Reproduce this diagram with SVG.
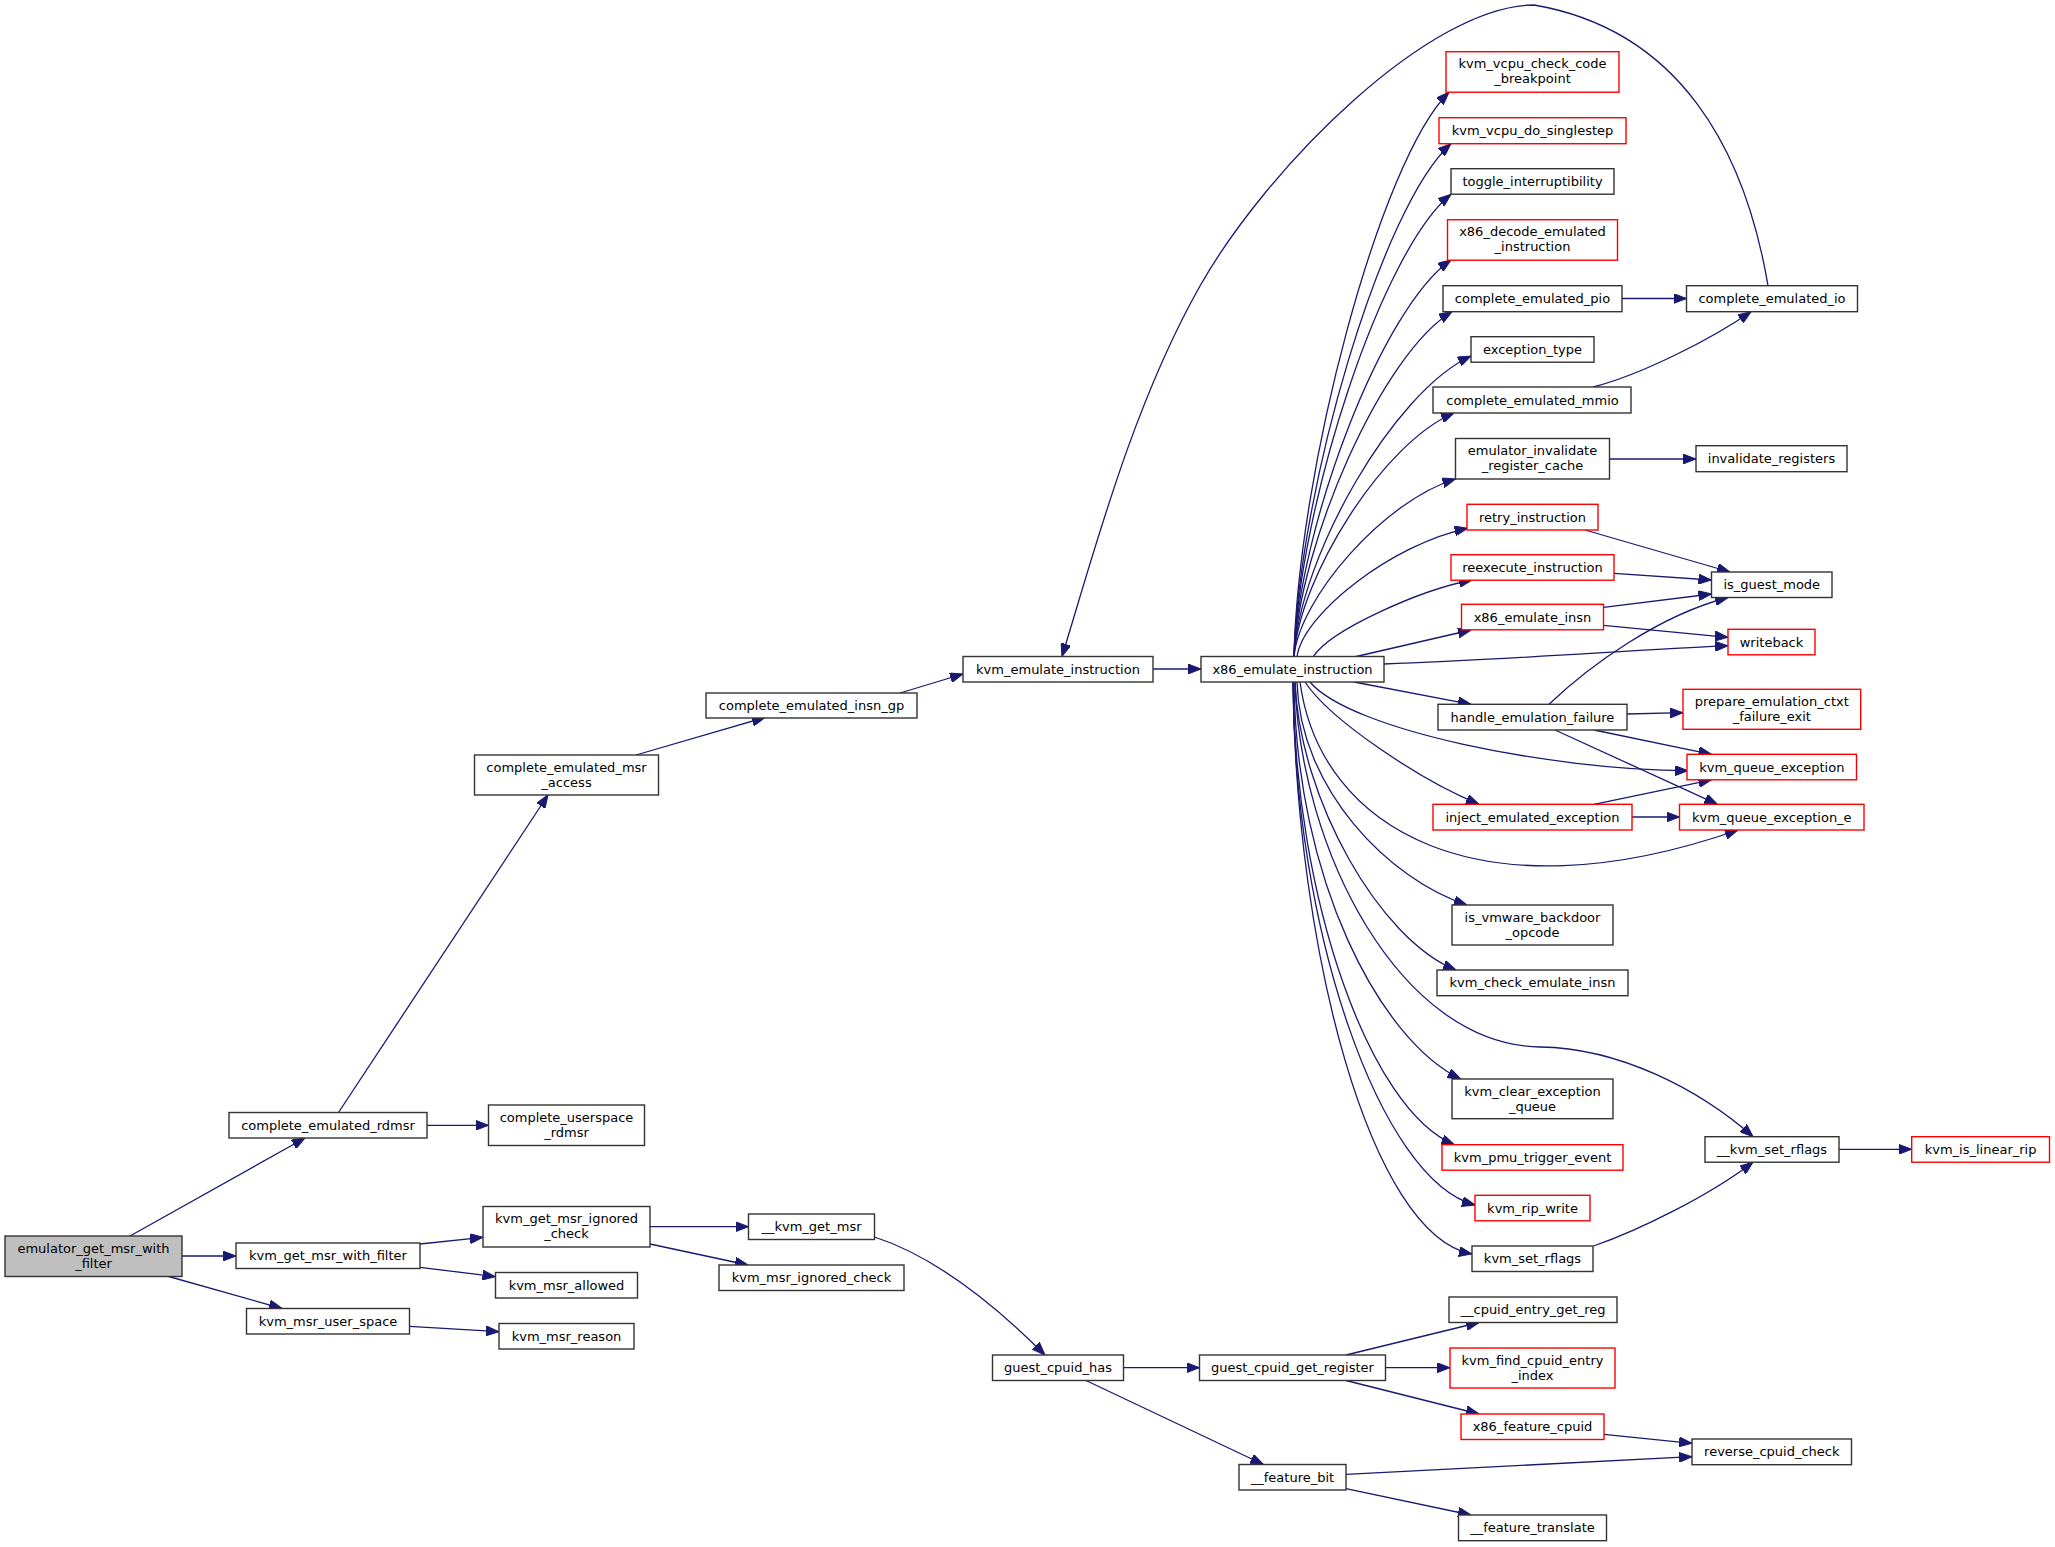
<svg xmlns="http://www.w3.org/2000/svg" width="2055" height="1547" viewBox="0 0 2055 1547">
<style>
.bg{fill:#ffffff}
.node rect{fill:#ffffff;stroke:#333333;stroke-width:1.4}
.node.red rect{stroke:#ff0000}
.node.root rect{fill:#bfbfbf}
.node text{font-family:"DejaVu Sans",sans-serif;font-size:13px;fill:#000000;text-anchor:middle}
.edges path{fill:none;stroke:#191970;stroke-width:1.3;marker-end:url(#arr)}
</style>
<defs>
<marker id="arr" markerUnits="userSpaceOnUse" viewBox="0 0 13 10" refX="13" refY="5" markerWidth="13" markerHeight="10" orient="auto">
<path d="M0,0 L13,5 L0,10 z" fill="#191970" stroke="#191970" stroke-width="1"/>
</marker>
</defs>
<rect class="bg" x="0" y="0" width="2055" height="1547"/>
<g id="edges" class="edges">
<path d="M130,1236 L305,1138"/>
<path d="M182,1256 L236,1256"/>
<path d="M167,1276 L282,1308.5"/>
<path d="M427,1125.3 L488.5,1125.3"/>
<path d="M338.5,1112.5 L548,795"/>
<path d="M636,755 L765,717.5"/>
<path d="M900,693 L963,674"/>
<path d="M1153,669 L1201,669"/>
<path d="M1768,285.7 C1745,150 1680,30 1534,5 C1430,5 1268,166 1200,286 C1132,406 1093,556 1062,656.5"/>
<path d="M1622,298.5 L1686.5,298.5"/>
<path d="M1593,387 C1640,375 1710,340 1751,311.7"/>
<path d="M1609.5,459 L1696,459"/>
<path d="M1585,530 L1730,572"/>
<path d="M1614,573.3 L1711.5,580"/>
<path d="M1603.5,607.3 L1711.5,594"/>
<path d="M1603.5,625.3 L1728,637.3"/>
<path d="M1384,664 C1500,660 1620,651 1728,645.7"/>
<path d="M1549,704.3 C1590,665 1660,615 1728,597.5"/>
<path d="M1627,714 L1683,712.7"/>
<path d="M1594,730 L1711.5,754.3"/>
<path d="M1555,730 L1717.5,804.3"/>
<path d="M1594,804.3 L1711.5,779.8"/>
<path d="M1632,817 L1679.5,817"/>
<path d="M1294,657 C1298,470 1380,160 1449,92.3"/>
<path d="M1294,657 C1299,487.6 1382,205.3 1451,143.7"/>
<path d="M1294,657 C1299,504.3 1382,249.8 1451,194.3"/>
<path d="M1294,657 C1299,526 1382,307.6 1451,260"/>
<path d="M1294,657 C1299,543 1382.5,353 1452,311.7"/>
<path d="M1294,657 C1299,557.7 1393,392 1471,356"/>
<path d="M1294,657 C1299,576.5 1383.6,442.3 1454,413"/>
<path d="M1294,657 C1299,598 1384.5,500.4 1455.5,479"/>
<path d="M1297,657 C1302,614.5 1392.6,543.7 1467.7,528.3"/>
<path d="M1313,657 C1330,630 1420,590 1472,580"/>
<path d="M1354,657 L1471,630"/>
<path d="M1354,682 L1471,704.3"/>
<path d="M1310,682 C1350,730 1550,770 1688,770.7"/>
<path d="M1305,682 C1330,720 1420,780 1479,804.3"/>
<path d="M1300,682 C1320,830 1480,920 1738,830"/>
<path d="M1297,682 C1300,790 1390,880 1467,905"/>
<path d="M1295,682 C1300,800 1380,940 1456,970"/>
<path d="M1295,682 C1300,850 1400,1045 1540,1047 C1620,1048 1700,1090 1753,1136.7"/>
<path d="M1294,682 C1296,880 1380,1040 1460.6,1079"/>
<path d="M1293,682 C1295,900 1370,1110 1454.3,1144.7"/>
<path d="M1293,682 C1294,930 1380,1180 1475,1205"/>
<path d="M1293,682 C1296,950 1370,1235 1472,1254"/>
<path d="M1593.5,1246 C1640,1230 1710,1195 1753,1162.2"/>
<path d="M1839,1149.3 L1911.7,1149.3"/>
<path d="M1346,1355 L1479,1322.5"/>
<path d="M1385.5,1367.7 L1450,1367.7"/>
<path d="M1346,1380.5 L1479,1414"/>
<path d="M1604,1434.3 L1692,1443.3"/>
<path d="M1346,1474.3 L1692,1456.7"/>
<path d="M1346,1488.7 L1471,1515"/>
<path d="M1123.5,1367.7 L1199.5,1367.7"/>
<path d="M1086,1380.5 L1263.4,1464.5"/>
<path d="M874.5,1237 C930,1255 990,1300 1045,1355"/>
<path d="M420,1244 L483,1237.3"/>
<path d="M420,1267.3 L495.5,1276.7"/>
<path d="M409.5,1326.3 L499,1331.7"/>
<path d="M650,1226.7 L748.5,1226.7"/>
<path d="M650,1244 L748,1265"/>
</g>
<g id="n_emulator_get_msr_with_filter" class="node root"><rect x="5" y="1236" width="177" height="40.5"/><text x="93.5" y="1252.6">emulator_get_msr_with</text><text x="93.5" y="1267.6">_filter</text></g>
<g id="n_complete_emulated_rdmsr" class="node"><rect x="229" y="1112.5" width="198" height="25.5"/><text x="328" y="1129.8">complete_emulated_rdmsr</text></g>
<g id="n_kvm_get_msr_with_filter" class="node"><rect x="236" y="1243" width="184" height="25.5"/><text x="328" y="1260.3">kvm_get_msr_with_filter</text></g>
<g id="n_kvm_msr_user_space" class="node"><rect x="246.5" y="1308.5" width="163" height="25.5"/><text x="328" y="1325.8">kvm_msr_user_space</text></g>
<g id="n_complete_emulated_msr_access" class="node"><rect x="474.5" y="755" width="184" height="40"/><text x="566.5" y="771.6">complete_emulated_msr</text><text x="566.5" y="786.6">_access</text></g>
<g id="n_complete_userspace_rdmsr" class="node"><rect x="488.5" y="1105" width="156" height="40.5"/><text x="566.5" y="1121.6">complete_userspace</text><text x="566.5" y="1136.6">_rdmsr</text></g>
<g id="n_kvm_get_msr_ignored_check" class="node"><rect x="483" y="1206.5" width="167" height="40.5"/><text x="566.5" y="1223.1">kvm_get_msr_ignored</text><text x="566.5" y="1238.1">_check</text></g>
<g id="n_kvm_msr_allowed" class="node"><rect x="495.5" y="1272.5" width="142" height="25.5"/><text x="566.5" y="1289.8">kvm_msr_allowed</text></g>
<g id="n_kvm_msr_reason" class="node"><rect x="499" y="1323.5" width="135" height="25.5"/><text x="566.5" y="1340.8">kvm_msr_reason</text></g>
<g id="n_complete_emulated_insn_gp" class="node"><rect x="706" y="693" width="211" height="25"/><text x="811.5" y="710.2">complete_emulated_insn_gp</text></g>
<g id="n___kvm_get_msr" class="node"><rect x="748.5" y="1214" width="126" height="25.5"/><text x="811.5" y="1231.3">__kvm_get_msr</text></g>
<g id="n_kvm_msr_ignored_check" class="node"><rect x="719" y="1265" width="185" height="25.5"/><text x="811.5" y="1282.3">kvm_msr_ignored_check</text></g>
<g id="n_kvm_emulate_instruction" class="node"><rect x="963" y="656.5" width="190" height="25.5"/><text x="1058" y="673.8">kvm_emulate_instruction</text></g>
<g id="n_guest_cpuid_has" class="node"><rect x="992.5" y="1355" width="131" height="25.5"/><text x="1058" y="1372.3">guest_cpuid_has</text></g>
<g id="n_x86_emulate_instruction" class="node"><rect x="1201" y="656.5" width="183" height="25.5"/><text x="1292.5" y="673.8">x86_emulate_instruction</text></g>
<g id="n_guest_cpuid_get_register" class="node"><rect x="1199.5" y="1355" width="186" height="25.5"/><text x="1292.5" y="1372.3">guest_cpuid_get_register</text></g>
<g id="n___feature_bit" class="node"><rect x="1239" y="1464.5" width="107" height="25.5"/><text x="1292.5" y="1481.8">__feature_bit</text></g>
<g id="n_kvm_vcpu_check_code_breakpoint" class="node red"><rect x="1446" y="51.7" width="173" height="40.5"/><text x="1532.5" y="68.3">kvm_vcpu_check_code</text><text x="1532.5" y="83.3">_breakpoint</text></g>
<g id="n_kvm_vcpu_do_singlestep" class="node red"><rect x="1439" y="117.7" width="187" height="26"/><text x="1532.5" y="135.2">kvm_vcpu_do_singlestep</text></g>
<g id="n_toggle_interruptibility" class="node"><rect x="1451" y="168.7" width="163" height="25.5"/><text x="1532.5" y="186">toggle_interruptibility</text></g>
<g id="n_x86_decode_emulated_instruction" class="node red"><rect x="1447.5" y="219.7" width="170" height="40.5"/><text x="1532.5" y="236.3">x86_decode_emulated</text><text x="1532.5" y="251.3">_instruction</text></g>
<g id="n_complete_emulated_pio" class="node"><rect x="1443" y="285.7" width="179" height="26"/><text x="1532.5" y="303.2">complete_emulated_pio</text></g>
<g id="n_exception_type" class="node"><rect x="1471" y="336.7" width="123" height="25.5"/><text x="1532.5" y="354">exception_type</text></g>
<g id="n_complete_emulated_mmio" class="node"><rect x="1433" y="387" width="198" height="26"/><text x="1532.5" y="404.5">complete_emulated_mmio</text></g>
<g id="n_emulator_invalidate_register_cache" class="node"><rect x="1455.5" y="438.5" width="154" height="40.5"/><text x="1532.5" y="455.1">emulator_invalidate</text><text x="1532.5" y="470.1">_register_cache</text></g>
<g id="n_retry_instruction" class="node red"><rect x="1467" y="504.3" width="131" height="25.7"/><text x="1532.5" y="521.7">retry_instruction</text></g>
<g id="n_reexecute_instruction" class="node red"><rect x="1451" y="554.7" width="163" height="25.5"/><text x="1532.5" y="572">reexecute_instruction</text></g>
<g id="n_x86_emulate_insn" class="node red"><rect x="1461.5" y="604.3" width="142" height="25.5"/><text x="1532.5" y="621.6">x86_emulate_insn</text></g>
<g id="n_handle_emulation_failure" class="node"><rect x="1438" y="704.3" width="189" height="25.7"/><text x="1532.5" y="721.7">handle_emulation_failure</text></g>
<g id="n_inject_emulated_exception" class="node red"><rect x="1433" y="804.3" width="199" height="25.7"/><text x="1532.5" y="821.7">inject_emulated_exception</text></g>
<g id="n_is_vmware_backdoor_opcode" class="node"><rect x="1452" y="905" width="161" height="40"/><text x="1532.5" y="921.6">is_vmware_backdoor</text><text x="1532.5" y="936.6">_opcode</text></g>
<g id="n_kvm_check_emulate_insn" class="node"><rect x="1437" y="970" width="191" height="25.7"/><text x="1532.5" y="987.4">kvm_check_emulate_insn</text></g>
<g id="n_kvm_clear_exception_queue" class="node"><rect x="1452" y="1079" width="161" height="39.7"/><text x="1532.5" y="1095.6">kvm_clear_exception</text><text x="1532.5" y="1110.6">_queue</text></g>
<g id="n_kvm_pmu_trigger_event" class="node red"><rect x="1442" y="1144.7" width="181" height="25.5"/><text x="1532.5" y="1162">kvm_pmu_trigger_event</text></g>
<g id="n_kvm_rip_write" class="node red"><rect x="1475" y="1195.3" width="115" height="25.5"/><text x="1532.5" y="1212.6">kvm_rip_write</text></g>
<g id="n_kvm_set_rflags" class="node"><rect x="1472" y="1246" width="121" height="25.5"/><text x="1532.5" y="1263.3">kvm_set_rflags</text></g>
<g id="n___cpuid_entry_get_reg" class="node"><rect x="1449" y="1297" width="168" height="25.5"/><text x="1533" y="1314.3">__cpuid_entry_get_reg</text></g>
<g id="n_kvm_find_cpuid_entry_index" class="node red"><rect x="1450" y="1348" width="165" height="40"/><text x="1532.5" y="1364.6">kvm_find_cpuid_entry</text><text x="1532.5" y="1379.6">_index</text></g>
<g id="n_x86_feature_cpuid" class="node red"><rect x="1461" y="1414" width="143" height="25.5"/><text x="1532.5" y="1431.3">x86_feature_cpuid</text></g>
<g id="n___feature_translate" class="node"><rect x="1458.5" y="1515" width="148" height="25.7"/><text x="1532.5" y="1532.4">__feature_translate</text></g>
<g id="n_complete_emulated_io" class="node"><rect x="1686.5" y="285.7" width="171" height="26"/><text x="1772" y="303.2">complete_emulated_io</text></g>
<g id="n_invalidate_registers" class="node"><rect x="1696" y="445.7" width="151" height="26"/><text x="1771.5" y="463.2">invalidate_registers</text></g>
<g id="n_is_guest_mode" class="node"><rect x="1711.5" y="572" width="120.5" height="25.5"/><text x="1771.8" y="589.3">is_guest_mode</text></g>
<g id="n_writeback" class="node red"><rect x="1728" y="629.3" width="87" height="25.5"/><text x="1771.5" y="646.6">writeback</text></g>
<g id="n_prepare_emulation_ctxt_failure_exit" class="node red"><rect x="1683" y="689.3" width="177.7" height="40"/><text x="1771.8" y="705.9">prepare_emulation_ctxt</text><text x="1771.8" y="720.9">_failure_exit</text></g>
<g id="n_kvm_queue_exception" class="node red"><rect x="1687" y="754.3" width="169.5" height="25.5"/><text x="1771.8" y="771.6">kvm_queue_exception</text></g>
<g id="n_kvm_queue_exception_e" class="node red"><rect x="1679.5" y="804.3" width="184.5" height="25.7"/><text x="1771.8" y="821.7">kvm_queue_exception_e</text></g>
<g id="n___kvm_set_rflags" class="node"><rect x="1705" y="1136.7" width="134" height="25.5"/><text x="1772" y="1154">__kvm_set_rflags</text></g>
<g id="n_reverse_cpuid_check" class="node"><rect x="1692" y="1439" width="159.5" height="25.7"/><text x="1771.8" y="1456.4">reverse_cpuid_check</text></g>
<g id="n_kvm_is_linear_rip" class="node red"><rect x="1911.7" y="1136.7" width="137.8" height="25.5"/><text x="1980.6" y="1154">kvm_is_linear_rip</text></g>
</svg>
